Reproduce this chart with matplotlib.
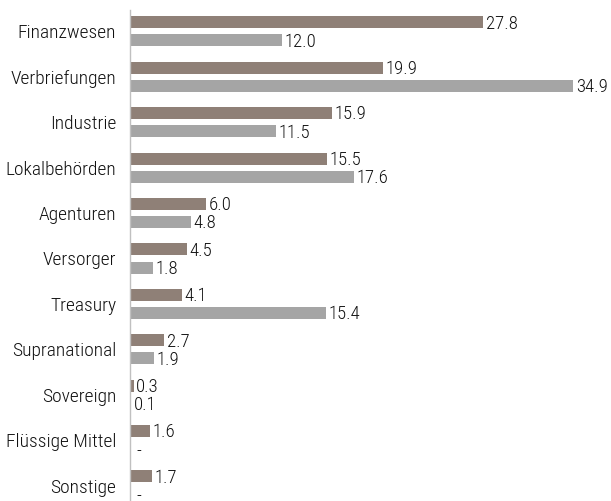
import numpy as np
import matplotlib.pyplot as plt
from matplotlib import font_manager

# Data
categories = ['Finanzwesen', 'Verbriefungen', 'Industrie', 'Lokalbehörden', 'Agenturen',
              'Versorger', 'Treasury', 'Supranational', 'Sovereign', 'Flüssige Mittel', 'Sonstige']
fund = [27.8, 19.9, 15.9, 15.5, 6.0, 4.5, 4.1, 2.7, 0.3, 1.6, 1.7]
index = [12.0, 34.9, 11.5, 17.6, 4.8, 1.8, 15.4, 1.9, 0.1, None, None]

names = {f.name for f in font_manager.fontManager.ttflist}
family = next(n for n in ['Roboto Condensed', 'Archivo Narrow', 'Liberation Sans Narrow', 'Liberation Sans']
              if n in names)
plt.rcParams['font.family'] = [family, 'DejaVu Sans']
plt.rcParams['font.weight'] = 'light'

brown = '#8f8077'
grey = '#a5a5a5'
txt = '#111111'

fig = plt.figure(figsize=(6.11, 5.01), dpi=100)
ax = fig.add_axes([130 / 611, 0, 1 - 130 / 611, (501 - 10) / 501])

y = np.arange(len(categories))
h = 0.265
off = 0.2

ax.barh(y - off, fund, height=h, color=brown)
idx_vals = [v if v is not None else 0 for v in index]
ax.barh(y + off, idx_vals, height=h, color=grey)

fs_val = 13.5
for yi, v in zip(y, fund):
    ax.text(v + 0.2, yi - off + 0.03, f'{v:.1f}', va='center', ha='left', fontsize=fs_val, color=txt)
for yi, v in zip(y, index):
    lab = f'{v:.1f}' if v is not None else '-'
    xv = v if v is not None else 0.3
    ax.text(xv + 0.2, yi + off + 0.03, lab, va='center', ha='left', fontsize=fs_val, color=txt)

ax.set_yticks(y)
ax.set_yticklabels(categories, fontsize=14, color=txt)
ax.tick_params(axis='y', length=0, pad=10)
ax.set_xticks([])
ax.set_xlim(0, 481 / 12.7)
ax.set_ylim(10.34, -0.47)

for s in ['top', 'right', 'bottom']:
    ax.spines[s].set_visible(False)
ax.spines['left'].set_color('#c0c0c0')
ax.spines['left'].set_linewidth(1)

fig.savefig('out.png', dpi=100)
